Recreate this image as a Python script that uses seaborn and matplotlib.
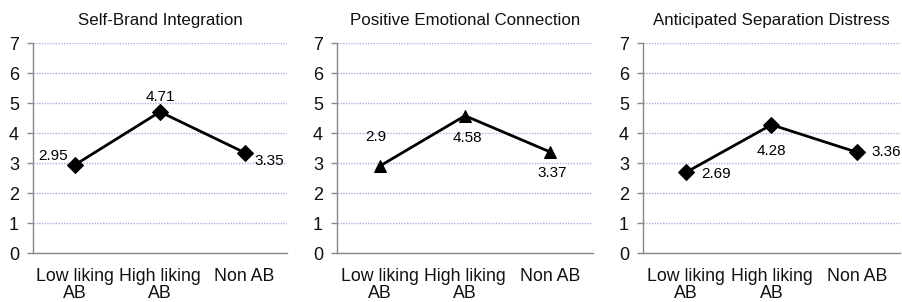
import pandas as pd
import matplotlib
matplotlib.use("Agg")
import matplotlib.pyplot as plt
import seaborn as sns

# Data
groups = ["Low liking\nAB", "High liking\nAB", "Non AB"]
titles = ["Self-Brand Integration", "Positive Emotional Connection", "Anticipated Separation Distress"]
self_brand = [2.95, 4.71, 3.35]
positive_emotion = [2.90, 4.58, 3.37]
separation_distress = [2.69, 4.28, 3.36]
markers = ["D", "^", "D"]

# label offsets (points) per panel / point
offsets = [
    [(-16, 6), (0, 11), (18, -6)],
    [(-3, 21), (2, -16), (1, -15)],
    [(22, -1), (0, -19), (21, 0)],
]

sns.set_theme(style="white")
plt.rcParams["font.family"] = ["Liberation Sans", "DejaVu Sans"]

fig = plt.figure(figsize=(9.03, 3.02), dpi=100)
positions = [
    [33 / 903, 0.162, 254 / 903, 0.695],
    [337 / 903, 0.162, 256 / 903, 0.695],
    [643 / 903, 0.162, 257 / 903, 0.695],
]

series = [self_brand, positive_emotion, separation_distress]
for i, vals in enumerate(series):
    ax = fig.add_axes(positions[i])
    df = pd.DataFrame({"x": [0, 1, 2], "y": vals})
    sns.lineplot(data=df, x="x", y="y", ax=ax, color="black", linewidth=2,
                 marker=markers[i], markersize=9 if markers[i] == "^" else 8,
                 markeredgecolor="black", markerfacecolor="black")
    for j, v in enumerate(vals):
        lbl = f"{v:g}"
        ax.annotate(lbl, (j, v), textcoords="offset points", xytext=offsets[i][j],
                    ha="center", va="center", fontsize=11, color="black")
    ax.set_xlim(-0.5, 2.5)
    ax.set_ylim(0, 7)
    ax.set_yticks(range(0, 8))
    ax.set_yticklabels([str(k) for k in range(0, 8)], fontsize=13)
    ax.set_xticks([0, 1, 2])
    ax.set_xticklabels(groups, fontsize=12.8, linespacing=1.0)
    ax.set_xticks([-0.5, 0.5, 1.5, 2.5], minor=True)
    ax.tick_params(axis="x", which="major", length=0, pad=11, labelcolor="#111111")
    ax.tick_params(axis="x", which="minor", length=4, width=1, color="#888888", direction="out")
    ax.tick_params(axis="y", length=4, width=1, color="#888888", direction="out", pad=6,
                   left=True, labelcolor="#111111")
    ax.set_xlabel("")
    ax.set_ylabel("")
    ax.set_title(titles[i], fontsize=12.2, pad=13, color="#111111")
    ax.yaxis.grid(True, color="#a8b4dc", linestyle=(0, (1, 1)), linewidth=1)
    ax.set_axisbelow(True)
    for s in ["top", "right"]:
        ax.spines[s].set_visible(False)
    for s in ["left", "bottom"]:
        ax.spines[s].set_color("#888888")
        ax.spines[s].set_linewidth(1)

fig.savefig("out.png", dpi=100)
